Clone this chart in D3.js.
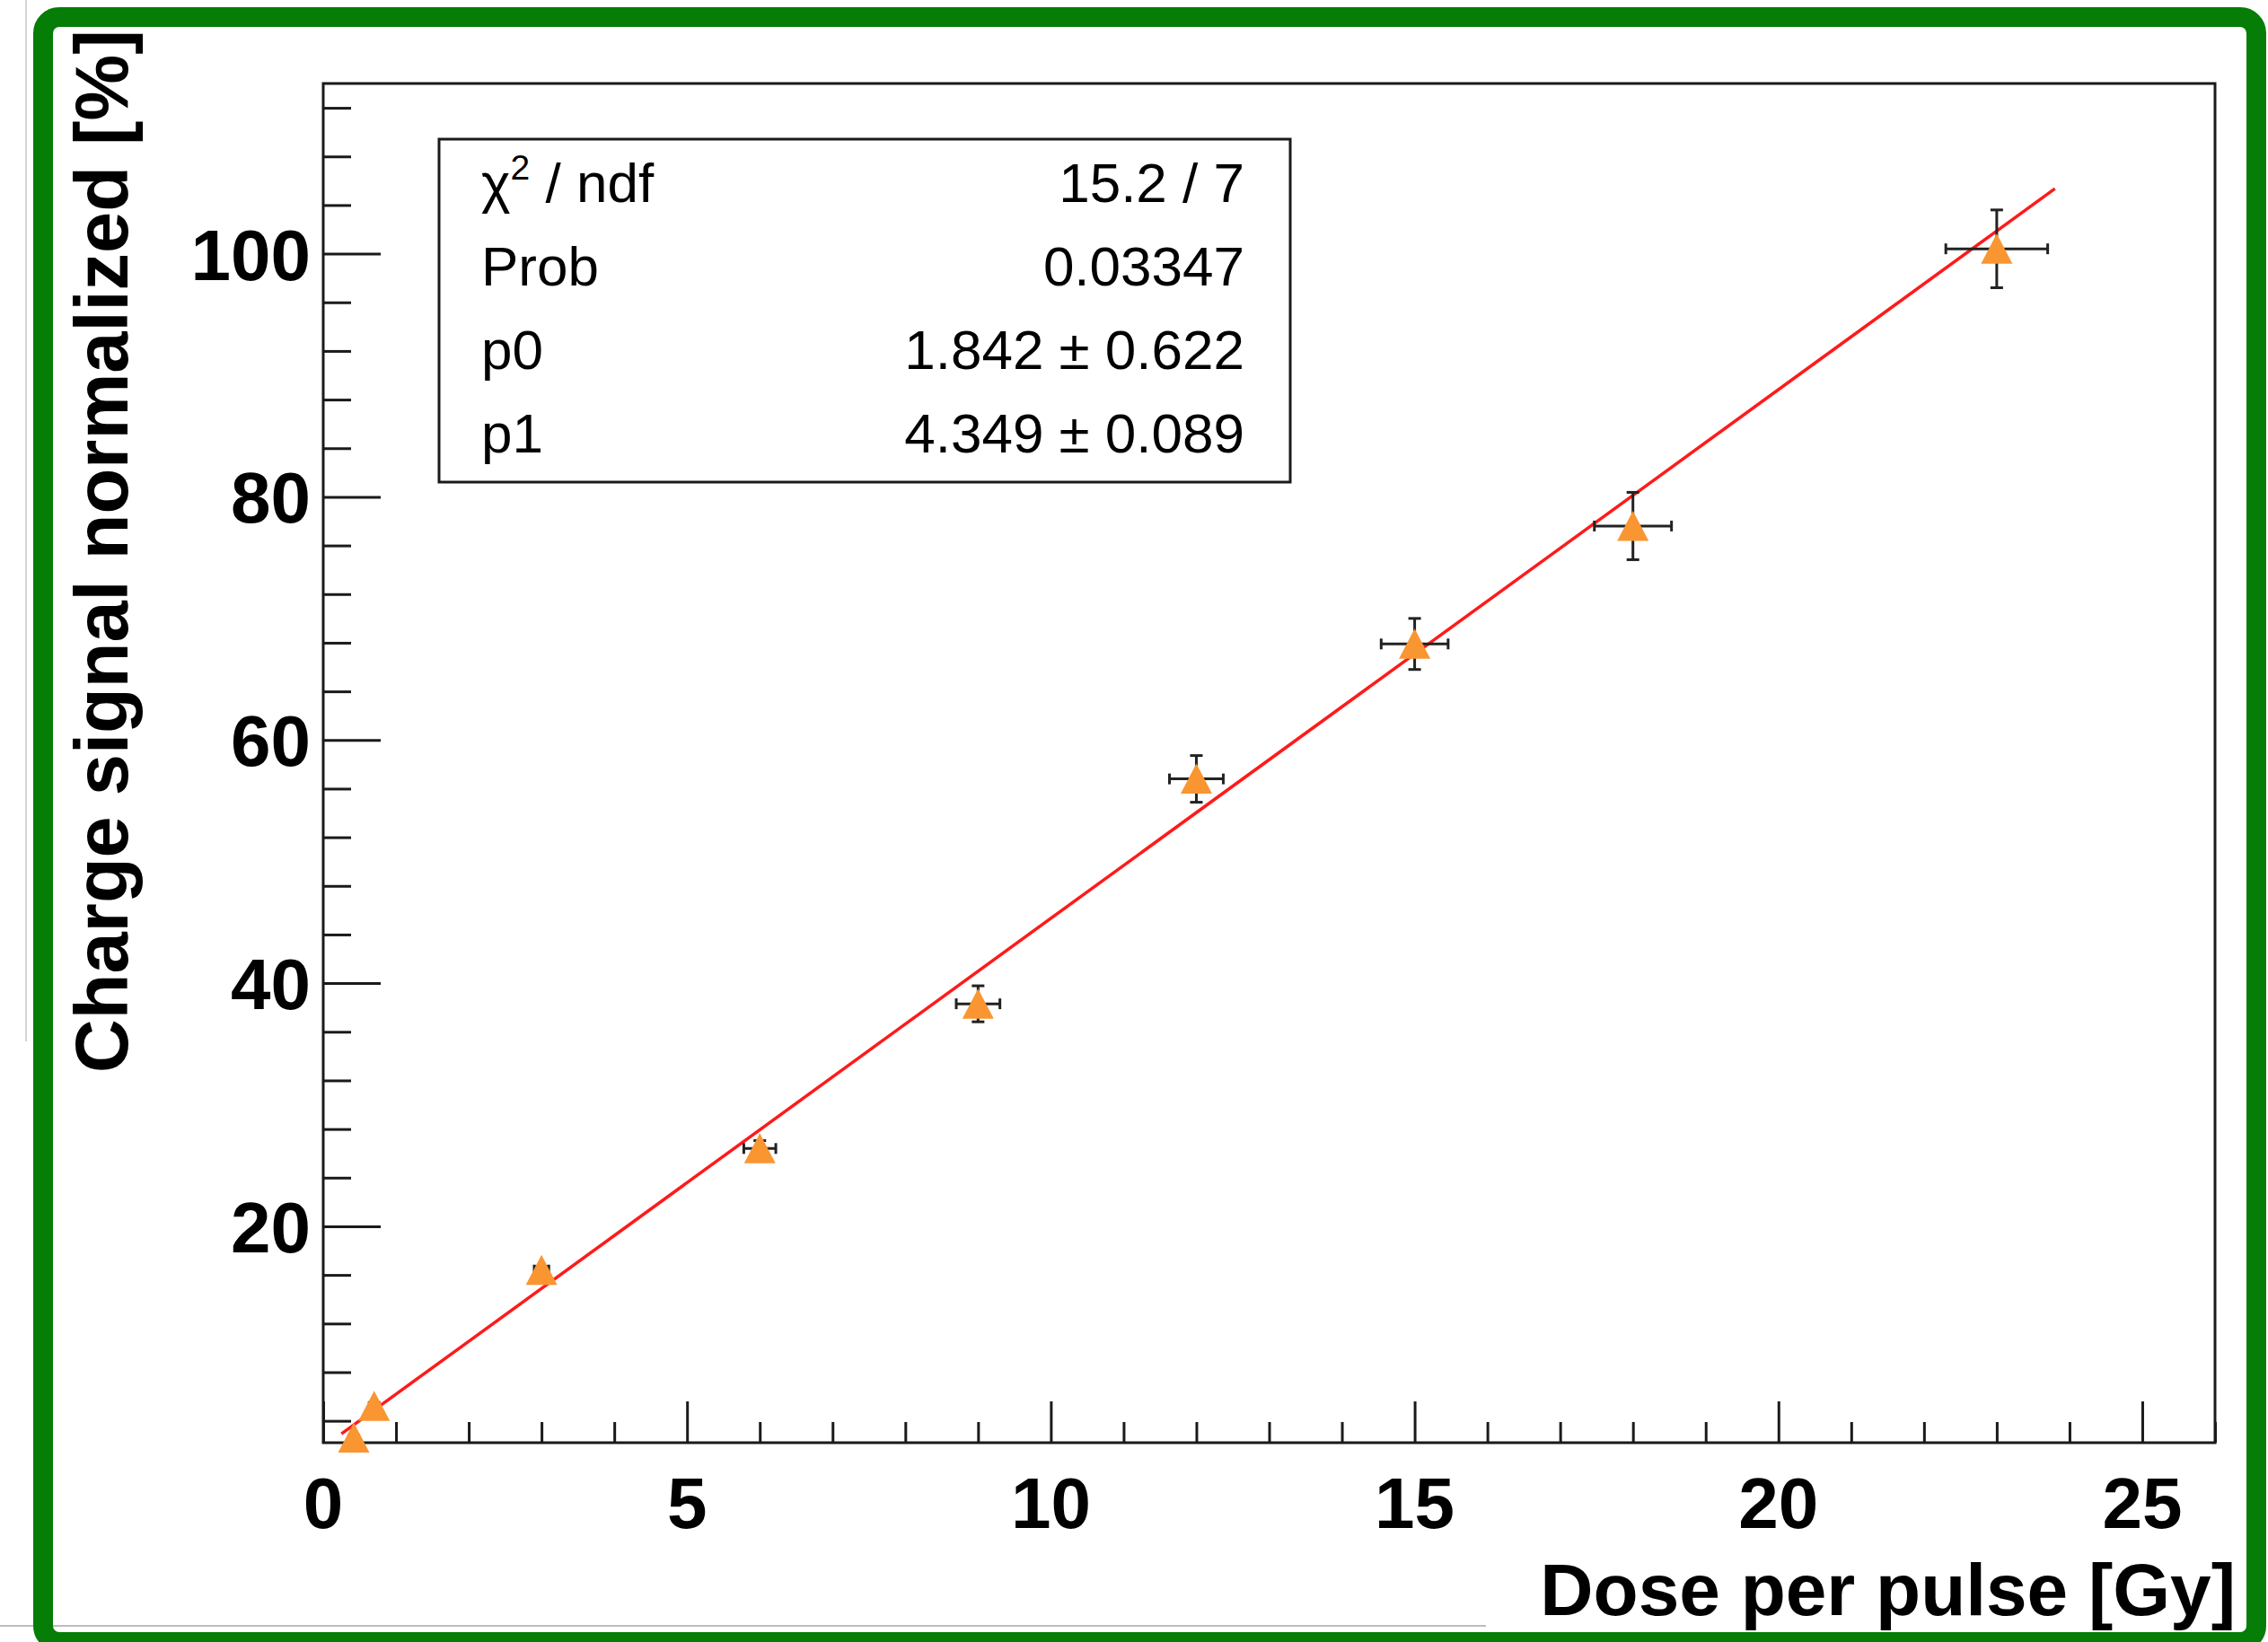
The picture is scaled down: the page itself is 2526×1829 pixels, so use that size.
<!DOCTYPE html>
<html>
<head>
<meta charset="utf-8">
<script src="https://cdn.jsdelivr.net/npm/d3@7"></script>
<style>
  html, body { margin: 0; padding: 0; background: #ffffff; }
  svg { display: block; }
</style>
</head>
<body>
<script>
// ---- data ----
const doseValues   = [0.42, 0.70, 3.0, 6.0, 9.0, 12.0, 15.0, 18.0, 23.0];
const doseErrors   = [0.05, 0.05, 0.10, 0.22, 0.30, 0.37, 0.46, 0.53, 0.70];
const signalValues = [2.6, 5.2, 16.4, 26.4, 38.3, 56.8, 67.9, 77.6, 100.4];
const signalErrors = [0.2, 0.3, 0.3, 0.65, 1.48, 1.92, 2.1, 2.77, 3.2];

const fitP0 = 1.842;
const fitP1 = 4.349;
const fitRange = [0.25, 23.8];

const xMajorTicks = [0, 5, 10, 15, 20, 25];
const xMinorTicks = [1, 2, 3, 4, 6, 7, 8, 9, 11, 12, 13, 14, 16, 17, 18, 19, 21, 22, 23, 24, 26];
const yMajorTicks = [20, 40, 60, 80, 100];
const yMinorTicks = [4, 8, 12, 16, 24, 28, 32, 36, 44, 48, 52, 56, 64, 68, 72, 76, 84, 88, 92, 96, 104, 108, 112];

const statLabels = ["χ2 / ndf", "Prob", "p0", "p1"];
const statValues = ["15.2 / 7", "0.03347", "1.842 ± 0.622", "4.349 ± 0.089"];

const xTitle = "Dose per pulse [Gy]";
const yTitle = "Charge signal normalized [%]";

// ---- layout ----
const W = 2526, H = 1829;
const plot = { left: 360, right: 2467, top: 93, bottom: 1607 };

const svg = d3.select("body").append("svg")
  .attr("width", W).attr("height", H)
  .style("font-family", "'Liberation Sans', Arial, Helvetica, sans-serif");

svg.append("rect").attr("width", W).attr("height", H).attr("fill", "#ffffff");

// screenshot artefact lines
svg.append("line").attr("x1", 29).attr("x2", 29).attr("y1", 0).attr("y2", 1160)
  .attr("stroke", "#d4d4d4").attr("stroke-width", 2);
svg.append("line").attr("x1", 0).attr("x2", 1655).attr("y1", 1811).attr("y2", 1811)
  .attr("stroke", "#bdbdbd").attr("stroke-width", 2);

// green frame
svg.append("rect")
  .attr("x", 48).attr("y", 19).attr("width", 2465).attr("height", 1810)
  .attr("rx", 18).attr("ry", 18)
  .attr("fill", "none").attr("stroke", "#067d06").attr("stroke-width", 22);

const x = d3.scaleLinear().domain([0, 26]).range([plot.left, plot.right]);
const y = d3.scaleLinear().domain([2.2, 114]).range([plot.bottom, plot.top]);

// frame
svg.append("rect")
  .attr("x", plot.left).attr("y", plot.top)
  .attr("width", plot.right - plot.left).attr("height", plot.bottom - plot.top)
  .attr("fill", "none").attr("stroke", "#1a1a1a").attr("stroke-width", 3);

// x axis
const gx = svg.append("g").attr("transform", `translate(0,${plot.bottom})`);
gx.call(d3.axisTop(x).tickValues(xMinorTicks).tickSize(23).tickFormat(""));
gx.call(g => g.select(".domain").remove());
const gx2 = svg.append("g").attr("transform", `translate(0,${plot.bottom})`);
gx2.call(d3.axisTop(x).tickValues(xMajorTicks).tickSize(46).tickFormat(""));
gx2.call(g => g.select(".domain").remove());
svg.selectAll("g.tick line").attr("stroke", "#1a1a1a").attr("stroke-width", 3);

svg.append("g").selectAll("text").data(xMajorTicks).join("text")
  .attr("x", d => x(d)).attr("y", 1702)
  .attr("text-anchor", "middle")
  .attr("font-size", 80).attr("font-weight", "bold").attr("fill", "#000")
  .text(d => d);

// y axis
const gy = svg.append("g").attr("transform", `translate(${plot.left},0)`);
gy.call(d3.axisRight(y).tickValues(yMinorTicks).tickSize(31).tickFormat(""));
gy.call(g => g.select(".domain").remove());
const gy2 = svg.append("g").attr("transform", `translate(${plot.left},0)`);
gy2.call(d3.axisRight(y).tickValues(yMajorTicks).tickSize(64).tickFormat(""));
gy2.call(g => g.select(".domain").remove());
svg.selectAll("g.tick line").attr("stroke", "#1a1a1a").attr("stroke-width", 3);

svg.append("g").selectAll("text").data(yMajorTicks).join("text")
  .attr("x", 346).attr("y", d => y(d) + 29)
  .attr("text-anchor", "end")
  .attr("font-size", 80).attr("font-weight", "bold").attr("fill", "#000")
  .text(d => d);

// axis titles
svg.append("text")
  .attr("x", 2490).attr("y", 1799)
  .attr("text-anchor", "end")
  .attr("font-size", 82).attr("font-weight", "bold").attr("fill", "#000")
  .text(xTitle);

svg.append("text")
  .attr("transform", "translate(142,33) rotate(-90)")
  .attr("text-anchor", "end")
  .attr("font-size", 83).attr("font-weight", "bold").attr("fill", "#000")
  .text(yTitle);

// fit line
const fitPts = fitRange.map(v => [v, fitP0 + fitP1 * v]);
svg.append("path")
  .attr("d", d3.line().x(d => x(d[0])).y(d => y(d[1]))(fitPts))
  .attr("fill", "none").attr("stroke", "#ff1a1a").attr("stroke-width", 3.5);

// error bars
const pts = doseValues.map((d, i) => ({ x: d, ex: doseErrors[i], y: signalValues[i], ey: signalErrors[i] }));
const eg = svg.append("g").attr("stroke", "#222").attr("stroke-width", 3);
pts.forEach(p => {
  const cx = x(p.x), cy = y(p.y);
  const x0 = x(p.x - p.ex), x1 = x(p.x + p.ex);
  const y0 = y(p.y - p.ey), y1 = y(p.y + p.ey);
  eg.append("line").attr("x1", x0).attr("x2", x1).attr("y1", cy).attr("y2", cy);
  eg.append("line").attr("x1", cx).attr("x2", cx).attr("y1", y0).attr("y2", y1);
  eg.append("line").attr("x1", x0).attr("x2", x0).attr("y1", cy - 6).attr("y2", cy + 6);
  eg.append("line").attr("x1", x1).attr("x2", x1).attr("y1", cy - 6).attr("y2", cy + 6);
  eg.append("line").attr("x1", cx - 7).attr("x2", cx + 7).attr("y1", y0).attr("y2", y0);
  eg.append("line").attr("x1", cx - 7).attr("x2", cx + 7).attr("y1", y1).attr("y2", y1);
});

// markers (full triangle up)
svg.append("g").selectAll("path").data(pts).join("path")
  .attr("transform", d => `translate(${x(d.x)},${y(d.y)})`)
  .attr("d", "M0,-17 L17.5,16.5 L-17.5,16.5 Z")
  .attr("fill", "#f99632");

// stats box
svg.append("rect")
  .attr("x", 489).attr("y", 155).attr("width", 948).attr("height", 382)
  .attr("fill", "#ffffff").attr("stroke", "#1a1a1a").attr("stroke-width", 3);

const rowY = [225, 318, 411, 504];
statLabels.forEach((lab, i) => {
  const t = svg.append("text")
    .attr("x", 536).attr("y", rowY[i])
    .attr("font-size", 62).attr("fill", "#000");
  if (i === 0) {
    t.append("tspan").text("χ");
    t.append("tspan").attr("font-size", 39).attr("dy", -25).text("2");
    t.append("tspan").attr("dy", 25).text(" / ndf");
  } else {
    t.text(lab);
  }
  svg.append("text")
    .attr("x", 1386).attr("y", rowY[i])
    .attr("text-anchor", "end")
    .attr("font-size", 62).attr("fill", "#000")
    .text(statValues[i]);
});
</script>
</body>
</html>
